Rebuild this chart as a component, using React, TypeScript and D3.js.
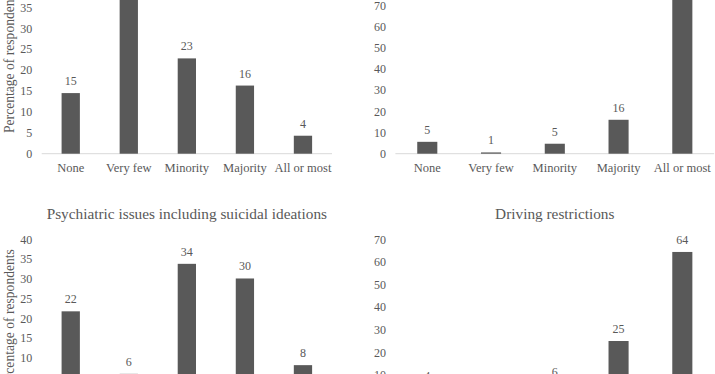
import * as d3 from "d3";

const categories = ["None", "Very few", "Minority", "Majority", "All or most"];

// values (%)
const mildValues = [14.5, 42, 22.8, 16.3, 4.3];
const mildLabels = ["15", "42", "23", "16", "4"];
const severeValues = [5.6, 0.6, 4.7, 16, 73];
const severeLabels = ["5", "1", "5", "16", "73"];
const psychValues = [21.8, 6, 33.8, 30.1, 8.2];
const psychLabels = ["22", "6", "34", "30", "8"];
const drivingValues = [4, 1, 6, 25, 64.4];
const drivingLabels = ["4", "1", "6", "25", "64"];

const TEXT = "#595959";
const BAR = "#595959";
const AXIS = "#d9d9d9";
const FONT = "Liberation Serif, Times New Roman, serif";

type PanelProps = {
  title?: string;
  values: number[];
  labels: string[];
  xRange: [number, number];
  yMax: number;
  yRange: [number, number];
  step: number;
  showYTitle?: boolean;
  titleY?: number;
};

function Panel({ title, values, labels, xRange, yMax, yRange, step, showYTitle, titleY }: PanelProps) {
  const x = d3.scaleBand<string>().domain(categories).range(xRange).paddingInner(0.685).paddingOuter(0.3425);
  const y = d3.scaleLinear().domain([0, yMax]).range(yRange);
  const ticks = d3.range(0, yMax + step / 2, step);
  const midX = (xRange[0] + xRange[1]) / 2;
  const midY = (yRange[0] + yRange[1]) / 2;

  return (
    <g style={{ fontFamily: FONT }} fill={TEXT}>
      {title && (
        <text x={midX} y={titleY} textAnchor="middle" fontSize={15.3}>
          {title}
        </text>
      )}
      {showYTitle && (
        <text transform={`translate(13.5,${midY + 2}) rotate(-90)`} textAnchor="middle" fontSize={13.6}>
          Percentage of respondents
        </text>
      )}
      {ticks.map(t => (
        <text key={t} x={xRange[0] - 9.5} y={y(t)} dy="0.35em" textAnchor="end" fontSize={12}>
          {t}
        </text>
      ))}
      <line x1={xRange[0]} x2={xRange[1]} y1={y(0)} y2={y(0)} stroke={AXIS} strokeWidth={1} />
      {values.map((v, i) => (
        <g key={categories[i]}>
          <rect x={x(categories[i])} y={y(v)} width={x.bandwidth()} height={y(0) - y(v)} fill={BAR} />
          <text x={x(categories[i])! + x.bandwidth() / 2} y={y(v) - 8} textAnchor="middle" fontSize={12}>
            {labels[i]}
          </text>
          <text x={x(categories[i])! + x.bandwidth() / 2} y={y(0) + 18.5} textAnchor="middle" fontSize={12.5}>
            {categories[i]}
          </text>
        </g>
      ))}
    </g>
  );
}

export default function App() {
  return (
    <svg
      width={715}
      height={374}
      style={{ position: "absolute", left: 0, top: 0, background: "#fff" }}
    >
      <Panel
        values={mildValues}
        labels={mildLabels}
        xRange={[41.7, 332]}
        yMax={45}
        yRange={[153.7, 153.7 - 45 * 4.18]}
        step={5}
        showYTitle
      />
      <Panel
        values={severeValues}
        labels={severeLabels}
        xRange={[395.4, 714.2]}
        yMax={80}
        yRange={[153.7, 153.7 - 80 * 2.12]}
        step={10}
      />
      <Panel
        title="Psychiatric issues including suicidal ideations"
        titleY={219}
        values={psychValues}
        labels={psychLabels}
        xRange={[41.7, 332]}
        yMax={40}
        yRange={[397.6, 239.3]}
        step={5}
        showYTitle
      />
      <Panel
        title="Driving restrictions"
        titleY={219}
        values={drivingValues}
        labels={drivingLabels}
        xRange={[395.4, 714.2]}
        yMax={70}
        yRange={[397.5, 239.3]}
        step={10}
      />
    </svg>
  );
}
